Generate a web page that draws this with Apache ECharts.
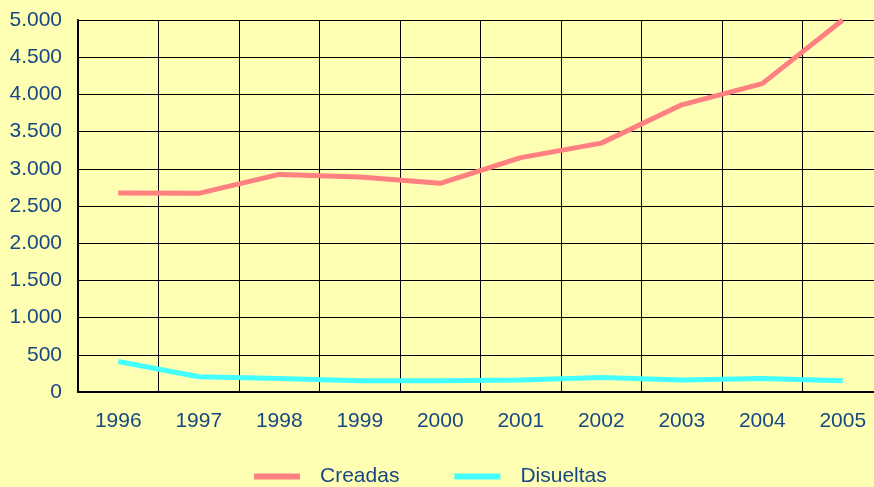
<!DOCTYPE html>
<html>
<head>
<meta charset="utf-8">
<script src="https://cdn.jsdelivr.net/npm/echarts@6/dist/echarts.min.js"></script>
<style>
  html, body { margin: 0; padding: 0; background: #FFFFB3; overflow: hidden; }
  #main { width: 900px; height: 487px; }
</style>
</head>
<body>
<div id="main"></div>
<script>
var years = ['1996', '1997', '1998', '1999', '2000', '2001', '2002', '2003', '2004', '2005'];
var creadas = [2675, 2670, 2925, 2890, 2805, 3150, 3345, 3860, 4145, 5000];
var disueltas = [410, 205, 180, 150, 150, 160, 195, 160, 180, 150];
var textColor = '#174785';

var myChart = echarts.init(document.getElementById('main'));
var option = {
    backgroundColor: '#FFFFB3',
    textStyle: { fontFamily: 'Liberation Sans, Arial, sans-serif' },
    grid: { left: 78, top: 20, width: 805, height: 372 },
    legend: {
        data: ['Creadas', 'Disueltas'],
        left: 249,
        top: 461,
        icon: 'rect',
        itemWidth: 46,
        itemHeight: 6,
        itemGap: 55,
        textStyle: { color: textColor, fontSize: 21, padding: [0, 0, 0, 15] }
    },
    xAxis: {
        type: 'category',
        data: years,
        boundaryGap: true,
        axisLine: { lineStyle: { color: '#000', width: 2 } },
        axisTick: { show: false },
        splitLine: { show: true, interval: 0, lineStyle: { color: '#000', width: 1 } },
        axisLabel: { color: textColor, fontSize: 21, margin: 19, interval: 0 }
    },
    yAxis: {
        type: 'value',
        min: 0,
        max: 5000,
        interval: 500,
        axisLine: { show: true, lineStyle: { color: '#000', width: 2 } },
        axisTick: { show: false },
        splitLine: { show: true, lineStyle: { color: '#000', width: 1 } },
        axisLabel: {
            color: textColor,
            fontSize: 21,
            margin: 16,
            formatter: function (v) {
                return String(v).replace(/\B(?=(\d{3})+(?!\d))/g, '.');
            }
        }
    },
    series: [
        {
            name: 'Creadas',
            type: 'line',
            data: creadas,
            showSymbol: false,
            symbol: 'none',
            color: '#FF8080',
            lineStyle: { color: '#FF8080', width: 5 }
        },
        {
            name: 'Disueltas',
            type: 'line',
            data: disueltas,
            showSymbol: false,
            symbol: 'none',
            color: '#44FFFF',
            lineStyle: { color: '#44FFFF', width: 5 }
        }
    ]
};
myChart.setOption(option);
</script>
</body>
</html>
